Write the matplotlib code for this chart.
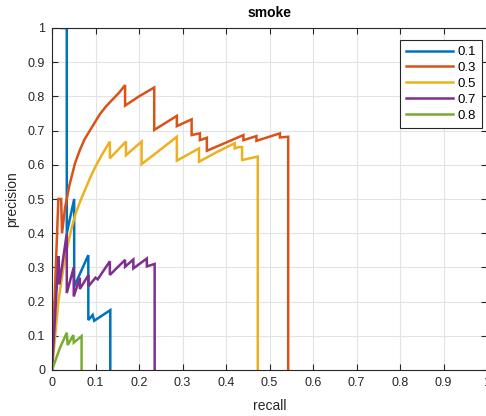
import matplotlib
matplotlib.use("Agg")
import matplotlib.pyplot as plt

title = "smoke"
labels = ["0.1", "0.3", "0.5", "0.7", "0.8"]
colors = ["#0072BD", "#D95319", "#EDB120", "#7E2F8E", "#77AC30"]

recall_01 = [0.021, 0.034, 0.034, 0.051, 0.051, 0.0835, 0.0835, 0.0935, 0.097, 0.134, 0.134]
prec_01 = [1.0, 1.0, 0.40, 0.50, 0.244, 0.336, 0.146, 0.161, 0.144, 0.175, 0.0]

recall_03 = [0.0, 0.0146, 0.021, 0.023, 0.03, 0.034, 0.04, 0.053, 0.064, 0.075, 0.087, 0.1,
             0.11, 0.125, 0.14, 0.155, 0.168, 0.168, 0.2, 0.235, 0.235, 0.287, 0.287, 0.321,
             0.321, 0.34, 0.34, 0.356, 0.356, 0.4, 0.44, 0.44, 0.47, 0.47, 0.524, 0.524,
             0.543, 0.543]
prec_03 = [0.0, 0.50, 0.50, 0.40, 0.475, 0.50, 0.54, 0.605, 0.643, 0.675, 0.70, 0.727,
           0.748, 0.772, 0.792, 0.812, 0.833, 0.773, 0.80, 0.826, 0.702, 0.743, 0.713, 0.733,
           0.687, 0.692, 0.672, 0.679, 0.641, 0.665, 0.687, 0.672, 0.684, 0.67, 0.692, 0.68,
           0.682, 0.0]

recall_05 = [0.0, 0.0146, 0.03, 0.045, 0.055, 0.066, 0.077, 0.087, 0.1, 0.115, 0.133, 0.133,
             0.17, 0.17, 0.206, 0.206, 0.25, 0.287, 0.287, 0.338, 0.338, 0.38, 0.42, 0.42,
             0.43, 0.437, 0.437, 0.473, 0.473]
prec_05 = [0.0, 0.20, 0.33, 0.415, 0.46, 0.497, 0.53, 0.56, 0.595, 0.63, 0.668, 0.619,
           0.668, 0.628, 0.668, 0.602, 0.645, 0.682, 0.612, 0.648, 0.609, 0.638, 0.663, 0.648,
           0.652, 0.652, 0.614, 0.624, 0.0]

recall_07 = [0.0, 0.015, 0.017, 0.034, 0.034, 0.05, 0.05, 0.064, 0.064, 0.084, 0.084, 0.1,
             0.105, 0.133, 0.133, 0.168, 0.168, 0.187, 0.187, 0.218, 0.218, 0.236, 0.236]
prec_07 = [0.0, 0.333, 0.25, 0.40, 0.225, 0.30, 0.215, 0.27, 0.237, 0.278, 0.245, 0.27,
           0.265, 0.318, 0.278, 0.322, 0.302, 0.323, 0.297, 0.326, 0.303, 0.31, 0.0]

recall_08 = [0.0, 0.018, 0.034, 0.036, 0.049, 0.05, 0.068, 0.068]
prec_08 = [0.0, 0.064, 0.109, 0.073, 0.102, 0.08, 0.099, 0.0]

xticks = [0, 0.1, 0.2, 0.3, 0.4, 0.5, 0.6, 0.7, 0.8, 0.9, 1]
yticks = [0, 0.1, 0.2, 0.3, 0.4, 0.5, 0.6, 0.7, 0.8, 0.9, 1]
xlabel = "recall"
ylabel = "precision"

series = [(recall_01, prec_01), (recall_03, prec_03), (recall_05, prec_05),
          (recall_07, prec_07), (recall_08, prec_08)]

plt.rcParams['font.family'] = ['Liberation Sans', 'DejaVu Sans']
fig = plt.figure(figsize=(4.86, 4.16), dpi=100)
ax = fig.add_axes([52/486, 46/416, 435/486, 342/416])

for (r, p), lab, c in zip(series, labels, colors):
    ax.plot(r, p, color=c, lw=1.8, label=lab, solid_joinstyle='miter')

ax.set_xlim(0, 1)
ax.set_ylim(0, 1)
ax.set_xticks(xticks)
ax.set_yticks(yticks)
ax.set_xticklabels([f"{t:g}" for t in xticks])
ax.set_yticklabels([f"{t:g}" for t in yticks])
ax.grid(True, color="#e3e3e3", lw=0.8)
ax.set_axisbelow(True)
dark = "#262626"
for s in ax.spines.values():
    s.set_color(dark)
    s.set_linewidth(0.8)
ax.tick_params(direction='in', length=4.5, width=0.8, colors=dark, labelsize=9,
               top=True, right=True, pad=5)
ax.set_xlabel(xlabel, fontsize=10, color=dark, labelpad=7)
ax.set_ylabel(ylabel, fontsize=10, color=dark, labelpad=6)
ax.set_title(title, fontsize=10, fontweight='bold', color='black', pad=8)

leg = ax.legend(loc='upper left', bbox_to_anchor=((400-52)/435, (370-40)/342),
                fontsize=9.5, frameon=True, fancybox=False, handlelength=3.6,
                handletextpad=0.3, borderpad=0.45, labelspacing=0.28, borderaxespad=0)
leg.get_frame().set_edgecolor(dark)
leg.get_frame().set_linewidth(0.8)
leg.get_frame().set_alpha(1)

fig.savefig("out.png", dpi=100)
